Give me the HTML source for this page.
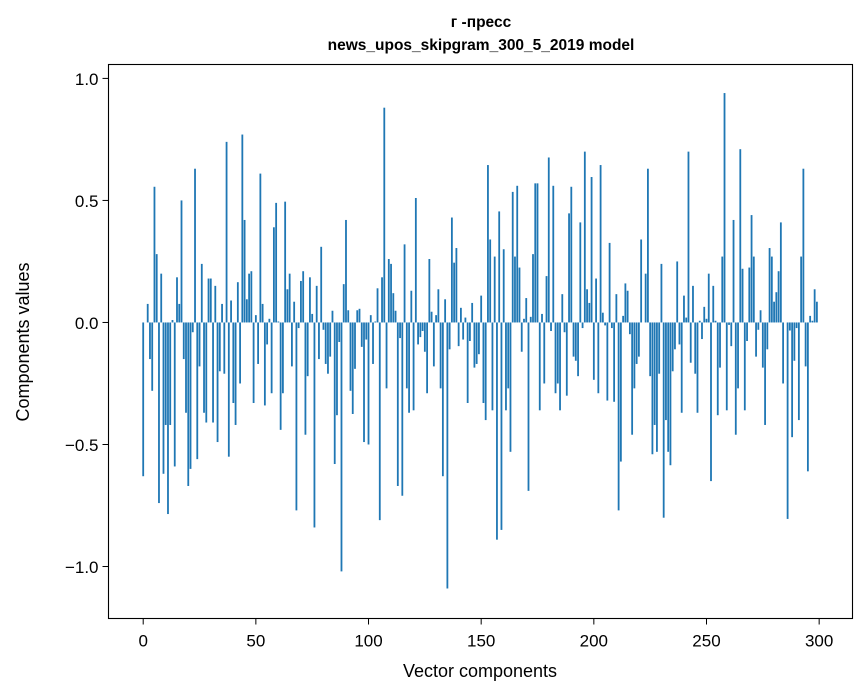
<!DOCTYPE html>
<html><head><meta charset="utf-8">
<style>
html,body{margin:0;padding:0;background:#fff;}
svg{display:block;font-family:"Liberation Sans","DejaVu Sans",sans-serif;}
</style></head>
<body>
<svg id="chart" width="867" height="696" viewBox="0 0 867 696" xmlns="http://www.w3.org/2000/svg">
<rect x="0" y="0" width="867" height="696" fill="#fff"/>
<text x="481" y="27" text-anchor="middle" font-size="15.5" font-weight="bold">г -пресс</text>
<text x="481" y="50" text-anchor="middle" font-size="15.5" font-weight="bold">news_upos_skipgram_300_5_2019 model</text>
<g id="bars"></g>
<g id="xticks"></g>
<g id="yticks"></g>
<rect x="108.5" y="64.5" width="744" height="554" fill="none" stroke="#000" stroke-width="1.1"/>
<text x="480" y="677" text-anchor="middle" font-size="18">Vector components</text>
<text transform="translate(29,342) rotate(-90)" text-anchor="middle" font-size="18">Components values</text>
</svg>
<script>
const values = [
-0.63,0,0.076,-0.15,-0.28,0.556,0.28,-0.74,0.20,-0.62,
-0.42,-0.785,-0.42,0.01,-0.59,0.185,0.076,0.50,-0.15,-0.37,
-0.67,-0.60,-0.04,0.63,-0.56,-0.18,0.24,-0.37,-0.41,0.18,
0.18,-0.41,0.15,-0.49,-0.20,0.076,-0.21,0.74,-0.55,0.09,
-0.33,-0.42,0.165,-0.25,0.77,0.42,0.095,0.20,0.21,-0.33,
0.03,-0.17,0.61,0.076,-0.34,-0.09,0.015,-0.29,0.39,0.49,
0.004,-0.44,-0.29,0.495,0.136,0.20,-0.18,0.085,-0.77,-0.023,
0.17,0.21,-0.46,-0.22,0.185,0.035,-0.84,0.15,-0.15,0.31,
-0.03,-0.17,-0.21,-0.14,0.048,-0.58,-0.38,-0.08,-1.02,0.157,
0.42,0.05,-0.28,-0.375,-0.19,0.05,0.056,-0.10,-0.49,-0.07,
-0.50,0.03,-0.17,0.004,0.14,-0.81,0.185,0.88,-0.27,0.26,
0.24,0.12,0.048,-0.67,-0.064,-0.71,0.32,-0.27,-0.37,0.13,
-0.36,0.51,-0.09,-0.06,-0.035,-0.12,-0.29,0.26,0.044,-0.18,
0.03,0.136,-0.27,-0.63,0.095,-1.09,-0.11,0.43,0.245,0.305,
-0.097,0.06,-0.07,0.02,-0.33,-0.076,0.08,-0.185,-0.17,-0.13,
0.11,-0.33,-0.40,0.645,0.34,-0.36,0.27,-0.89,0.455,-0.85,
0.30,-0.36,-0.27,-0.53,0.535,0.27,0.56,0.225,-0.12,0.015,
0.10,-0.69,0.023,0.28,0.57,0.57,-0.36,0.035,-0.25,0.19,
0.676,-0.035,0.56,-0.29,-0.25,-0.36,0.116,-0.04,-0.30,0.447,
0.556,-0.14,-0.157,-0.22,0.41,-0.023,0.70,0.136,0.08,0.596,
-0.235,0.18,-0.29,0.645,0.04,-0.012,-0.32,0.326,-0.023,-0.325,
0.116,-0.77,-0.57,0.027,0.16,0.13,-0.048,-0.46,-0.27,-0.17,
-0.14,0.34,0,0.20,0.63,-0.22,-0.54,-0.42,-0.53,-0.21,
0.24,-0.80,-0.40,-0.53,-0.585,-0.20,-0.11,0.25,-0.09,-0.37,
0.11,0.02,0.70,-0.165,0.15,-0.21,-0.37,0.007,-0.068,0.064,
0.015,0.20,-0.65,0.15,0.007,-0.38,-0.185,0.27,0.94,-0.36,
-0.01,-0.097,0.42,-0.46,-0.27,0.71,0.22,-0.36,-0.076,0.225,
0.44,0.27,-0.14,-0.03,0.05,-0.185,-0.42,-0.11,0.305,0.27,
0.085,0.124,0.21,0.41,-0.25,0,-0.805,-0.033,-0.47,-0.157,
-0.023,-0.40,0.27,0.63,-0.18,-0.61,0.027,0.007,0.136,0.085
];
const xTickValues = [0,50,100,150,200,250,300];
const xTickLabels = ["0","50","100","150","200","250","300"];
const yTickValues = [-1.0,-0.5,0.0,0.5,1.0];
const yTickLabels = ["\u22121.0","\u22120.5","0.0","0.5","1.0"];

const NS = "http://www.w3.org/2000/svg";
const plot = {left:108.5, right:852.5, top:64.5, bottom:618.5};
const xMin = -15.4, xMax = 314.8, yMin = -1.213, yMax = 1.057;
function xScale(v){ return plot.left + (v - xMin) / (xMax - xMin) * (plot.right - plot.left); }
function yScale(v){ return plot.bottom - (v - yMin) / (yMax - yMin) * (plot.bottom - plot.top); }

const barsG = document.getElementById('bars');
const bw = xScale(0.8) - xScale(0);
values.forEach(function(v, i){
  const r = document.createElementNS(NS, 'rect');
  const y0 = yScale(0), y1 = yScale(v);
  r.setAttribute('x', xScale(i) - bw/2);
  r.setAttribute('y', Math.min(y0, y1));
  r.setAttribute('width', bw);
  r.setAttribute('height', Math.max(Math.abs(y1 - y0), 0.01));
  r.setAttribute('fill', '#1f77b4');
  
  
  barsG.appendChild(r);
});

const xg = document.getElementById('xticks');
xTickValues.forEach(function(v, i){
  const x = xScale(v);
  const l = document.createElementNS(NS, 'line');
  l.setAttribute('x1', x); l.setAttribute('x2', x);
  l.setAttribute('y1', plot.bottom); l.setAttribute('y2', plot.bottom + 6);
  l.setAttribute('stroke', '#000'); l.setAttribute('stroke-width', '1');
  
  
  xg.appendChild(l);
  const t = document.createElementNS(NS, 'text');
  t.setAttribute('x', x); t.setAttribute('y', plot.bottom + 28);
  t.setAttribute('text-anchor', 'middle'); t.setAttribute('font-size', '17');
  t.textContent = xTickLabels[i];
  
  
  xg.appendChild(t);
});

const yg = document.getElementById('yticks');
yTickValues.forEach(function(v, i){
  const y = yScale(v);
  const l = document.createElementNS(NS, 'line');
  l.setAttribute('x1', plot.left - 6); l.setAttribute('x2', plot.left);
  l.setAttribute('y1', y); l.setAttribute('y2', y);
  l.setAttribute('stroke', '#000'); l.setAttribute('stroke-width', '1');
  
  
  yg.appendChild(l);
  const t = document.createElementNS(NS, 'text');
  t.setAttribute('x', plot.left - 10); t.setAttribute('y', y + 6.5);
  t.setAttribute('text-anchor', 'end'); t.setAttribute('font-size', '17');
  t.textContent = yTickLabels[i];
  
  
  yg.appendChild(t);
});
</script>
</body></html>
